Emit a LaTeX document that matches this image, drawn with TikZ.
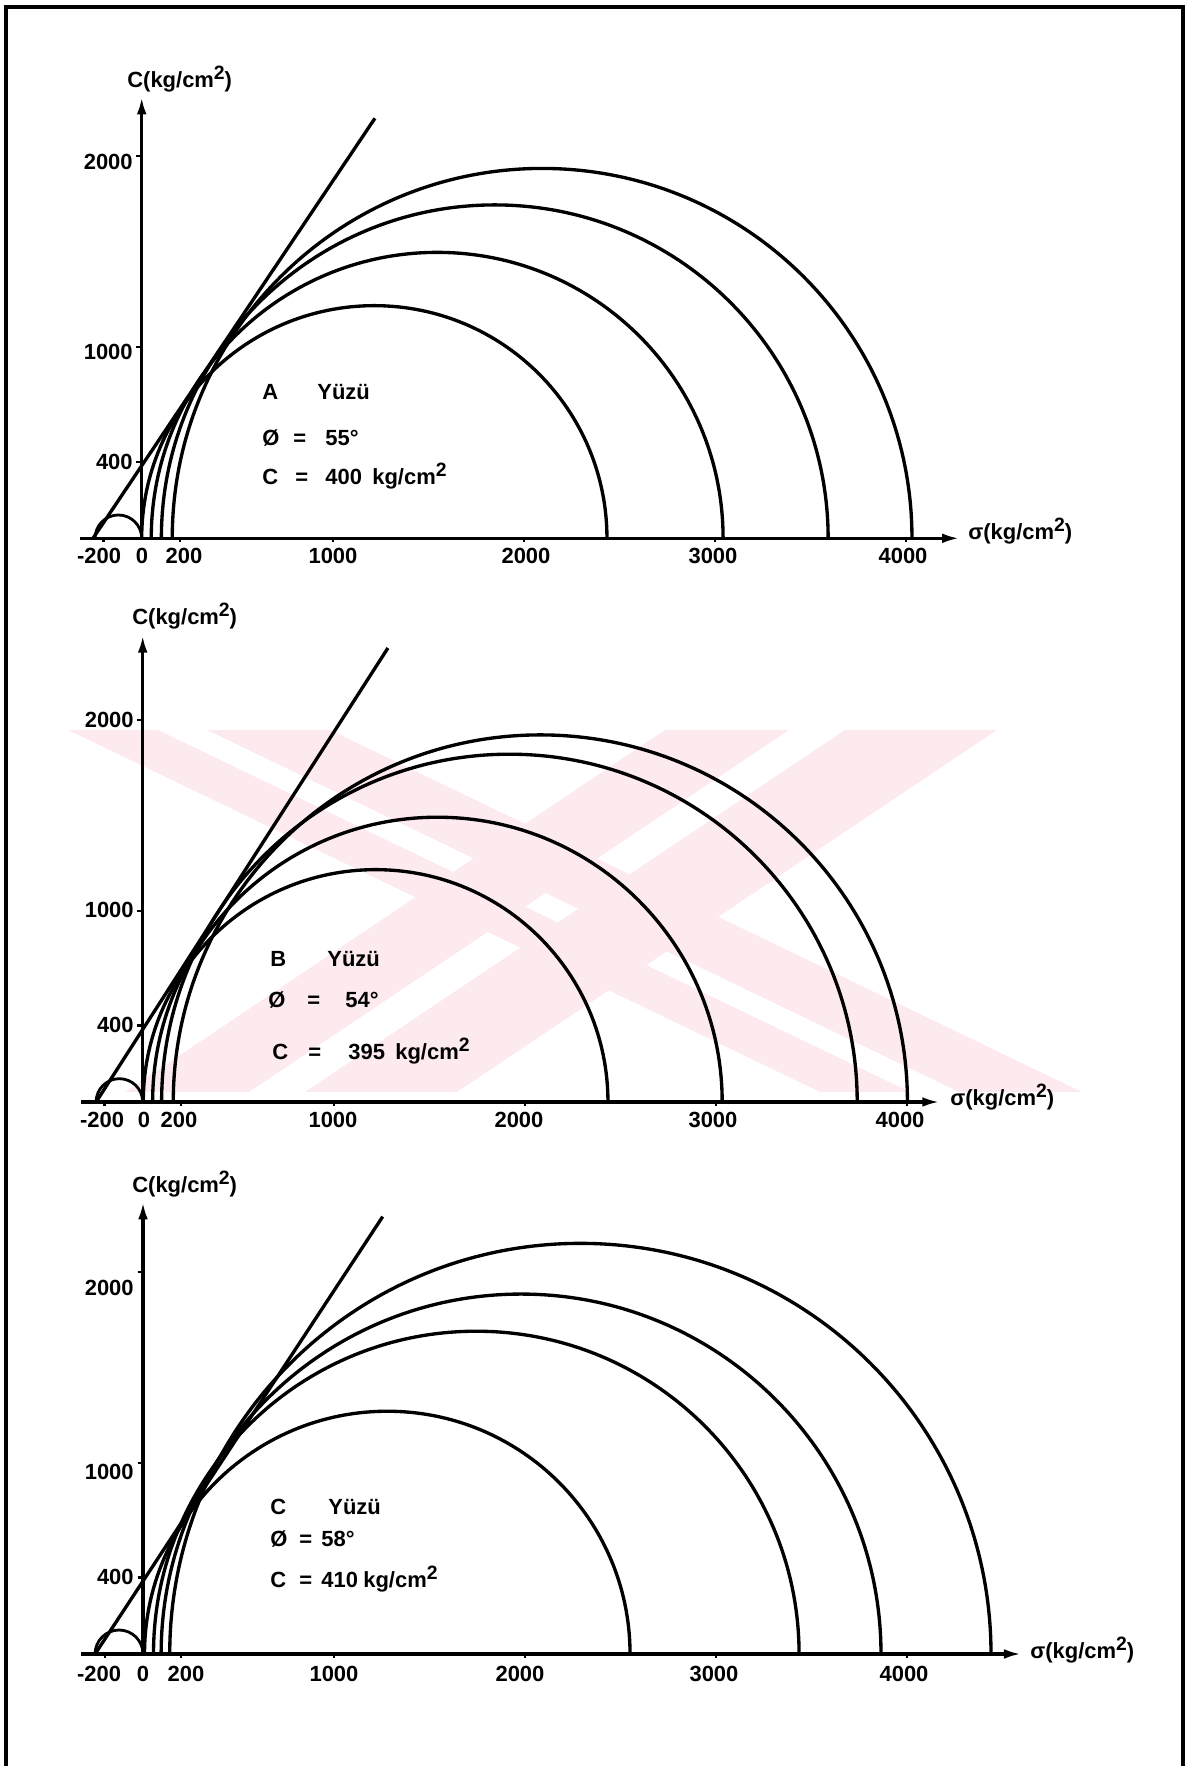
\documentclass[tikz,border=0pt]{standalone}
\usepackage{fontspec}
\setmainfont{Liberation Sans}
\usetikzlibrary{arrows.meta}
\definecolor{wmpink}{HTML}{FDEAEE}
\newcommand{\sqr}{\raisebox{0.75ex}{\fontsize{11}{11}\selectfont 2}}
\begin{document}
\begin{tikzpicture}[x=0.02cm,y=0.02cm,
  curve/.style={line width=1.9pt},
  thin curve/.style={line width=1.6pt},
  axisline/.style={line width=1.9pt},
  arr/.style={-{Latex[length=10pt,width=5.5pt]}},
  tick/.style={line width=1.3pt},
  lbl/.style={font=\fontsize{12.5}{14}\selectfont\bfseries, inner sep=0pt},
  txt/.style={font=\fontsize{12.5}{14}\selectfont\bfseries, inner sep=0pt, anchor=base west},
  wm/.style={fill=wmpink, draw=none},
  frame/.style={line width=2.2pt}]
\useasboundingbox (0,0) rectangle (1191,1766);
% watermark (pale pink stripes behind panel B)
\begin{scope}
  \clip (68,674) rectangle (1082,1036);
  \fill[wm] (68,1036) -- (158,1036) -- (910,674) -- (820,674) -- cycle;
  \fill[wm] (207,1036) -- (330,1036) -- (1082,674) -- (959,674) -- cycle;
  \fill[wm] (665,1036) -- (789,1036) -- (249,674) -- (125,674) -- cycle;
  \fill[wm] (845,1036) -- (997,1036) -- (457,674) -- (305,674) -- cycle;
\end{scope}
% frame
\coordinate (F1) at (6,-10);
\coordinate (F2) at (6,1759);
\coordinate (F3) at (1183,1759);
\coordinate (F4) at (1183,-10);
\draw[frame] (F1) -- (F2) -- (F3) -- (F4);

% ================= Panel A =================
\begin{scope}[shift={(141.7,1227.7)}, scale=0.191]
  \coordinate (Ao) at (0,0);
  \coordinate (Axs) at (-323,0);
  \coordinate (Axe) at (4283,0);
  \coordinate (Aye) at (0,2312);
  \draw[axisline,arr] (Axs) -- (Axe);
  \draw[axisline,arr] (Ao) -- (Aye);
  \foreach \v in {400,1000,2000} \draw[tick] (-28,\v) -- (0,\v);
  \foreach \u in {-200,200,1000,2000,3000,4000} \draw[tick] (\u,0) -- (\u,-22);
  \draw[thin curve] (0,0) arc[start angle=0,end angle=180,radius=122];
  \draw[curve] (2436,0) arc[start angle=0,end angle=180,radius=1218];
  \draw[curve] (3044,0) arc[start angle=0,end angle=180,radius=1497];
  \draw[curve] (3594,0) arc[start angle=0,end angle=180,radius=1745.5];
  \draw[curve] (4033,0) arc[start angle=0,end angle=180,radius=1936.5];
  \coordinate (Al1) at (-255,0);
  \coordinate (Al2) at (1221,2199);
  \draw[curve] (Al1) -- (Al2);
\end{scope}
\node[lbl, anchor=base west] (Ayl) at (127,1678) {C(kg/cm\sqr)};
\node[lbl, anchor=east] (Ay2000) at (133,1604) {2000};
\node[lbl, anchor=east] (Ay1000) at (133,1414) {1000};
\node[lbl, anchor=east] (Ay400) at (133,1304) {400};
\node[lbl] (Axm200) at (99,1210) {-200};
\node[lbl] (Ax0) at (142,1210) {0};
\node[lbl] (Ax200) at (184,1210) {200};
\node[lbl] (Ax1000) at (333,1210) {1000};
\node[lbl] (Ax2000) at (526,1210) {2000};
\node[lbl] (Ax3000) at (713,1210) {3000};
\node[lbl] (Ax4000) at (903,1210) {4000};
\node[lbl, anchor=west] (Axl) at (968,1235) {σ(kg/cm\sqr)};
\node[txt] (At1) at (262,1366) {A};
\node[txt] (At2) at (317,1366) {Yüzü};
\node[txt] (At3) at (262,1320) {Ø};
\node[txt] (At4) at (293,1320) {=};
\node[txt] (At5) at (325,1320) {55°};
\node[txt] (At6) at (262,1281) {C};
\node[txt] (At7) at (295,1281) {=};
\node[txt] (At8) at (325,1281) {400};
\node[txt] (At9) at (372,1281) {kg/cm\sqr};

% ================= Panel B =================
\begin{scope}[shift={(142.7,664)}, scale=0.191]
  \coordinate (Bo) at (0,0);
  \coordinate (Bxs) at (-323,0);
  \coordinate (Bxe) at (4174,0);
  \coordinate (Bye) at (0,2445);
  \draw[axisline,arr] (Bxs) -- (Bxe);
  \draw[axisline,arr] (Bo) -- (Bye);
  \foreach \v in {400,1000,2000} \draw[tick] (-28,\v) -- (0,\v);
  \foreach \u in {-200,200,1000,2000,3000,4000} \draw[tick] (\u,0) -- (\u,-22);
  \draw[thin curve] (0,0) arc[start angle=0,end angle=180,radius=122];
  \draw[curve] (2436,0) arc[start angle=0,end angle=180,radius=1216.5];
  \draw[curve] (3034,0) arc[start angle=0,end angle=180,radius=1491];
  \draw[curve] (3741,0) arc[start angle=0,end angle=180,radius=1821];
  \draw[curve] (4004,0) arc[start angle=0,end angle=180,radius=1922];
  \coordinate (Bl1) at (-244,0);
  \coordinate (Bl2) at (1284,2377);
  \draw[curve] (Bl1) -- (Bl2);
\end{scope}
\node[lbl, anchor=base west] (Byl) at (132,1141) {C(kg/cm\sqr)};
\node[lbl, anchor=east] (By2000) at (134,1046) {2000};
\node[lbl, anchor=east] (By1000) at (134,856) {1000};
\node[lbl, anchor=east] (By400) at (134,741) {400};
\node[lbl] (Bxm200) at (102,646) {-200};
\node[lbl] (Bx0) at (144,646) {0};
\node[lbl] (Bx200) at (179,646) {200};
\node[lbl] (Bx1000) at (333,646) {1000};
\node[lbl] (Bx2000) at (519,646) {2000};
\node[lbl] (Bx3000) at (713,646) {3000};
\node[lbl] (Bx4000) at (900,646) {4000};
\node[lbl, anchor=west] (Bxl) at (950,669) {σ(kg/cm\sqr)};
\node[txt] (Bt1) at (270,799) {B};
\node[txt] (Bt2) at (327,799) {Yüzü};
\node[txt] (Bt3) at (268,758) {Ø};
\node[txt] (Bt4) at (307,758) {=};
\node[txt] (Bt5) at (345,758) {54°};
\node[txt] (Bt6) at (272,706) {C};
\node[txt] (Bt7) at (308,706) {=};
\node[txt] (Bt8) at (348,706) {395};
\node[txt] (Bt9) at (395,706) {kg/cm\sqr};

% ================= Panel C =================
\begin{scope}[shift={(143,112)}, scale=0.191]
  \coordinate (Co) at (0,0);
  \coordinate (Cxs) at (-323,0);
  \coordinate (Cxe) at (4600,0);
  \coordinate (Cye) at (0,2368);
  \draw[axisline,arr] (Cxs) -- (Cxe);
  \draw[axisline,arr] (Co) -- (Cye);
  \foreach \v in {400,1000,2000} \draw[tick] (-28,\v) -- (0,\v);
  \foreach \u in {-200,200,1000,2000,3000,4000} \draw[tick] (\u,0) -- (\u,-22);
  \draw[thin curve] (0,0) arc[start angle=0,end angle=180,radius=125.5];
  \draw[curve] (2550,0) arc[start angle=0,end angle=180,radius=1271];
  \draw[curve] (3435,0) arc[start angle=0,end angle=180,radius=1690];
  \draw[curve] (3864,0) arc[start angle=0,end angle=180,radius=1884.5];
  \draw[curve] (4440,0) arc[start angle=0,end angle=180,radius=2150];
  \coordinate (Cl1) at (-251,0);
  \coordinate (Cl2) at (1255,2290);
  \draw[curve] (Cl1) -- (Cl2);
\end{scope}
\node[lbl, anchor=base west] (Cyl) at (132,573) {C(kg/cm\sqr)};
\node[lbl, anchor=east] (Cy2000) at (134,478) {2000};
\node[lbl, anchor=east] (Cy1000) at (134,294) {1000};
\node[lbl, anchor=east] (Cy400) at (134,189) {400};
\node[lbl] (Cxm200) at (99,92) {-200};
\node[lbl] (Cx0) at (143,92) {0};
\node[lbl] (Cx200) at (186,92) {200};
\node[lbl] (Cx1000) at (334,92) {1000};
\node[lbl] (Cx2000) at (520,92) {2000};
\node[lbl] (Cx3000) at (714,92) {3000};
\node[lbl] (Cx4000) at (904,92) {4000};
\node[lbl, anchor=west] (Cxl) at (1030,116) {σ(kg/cm\sqr)};
\node[txt] (Ct1) at (270,251) {C};
\node[txt] (Ct2) at (328,251) {Yüzü};
\node[txt] (Ct3) at (270,219) {Ø};
\node[txt] (Ct4) at (299,219) {=};
\node[txt] (Ct5) at (321,219) {58°};
\node[txt] (Ct6) at (270,178) {C};
\node[txt] (Ct7) at (299,178) {=};
\node[txt] (Ct8) at (321,178) {410};
\node[txt] (Ct9) at (363,178) {kg/cm\sqr};
\end{tikzpicture}
\end{document}
